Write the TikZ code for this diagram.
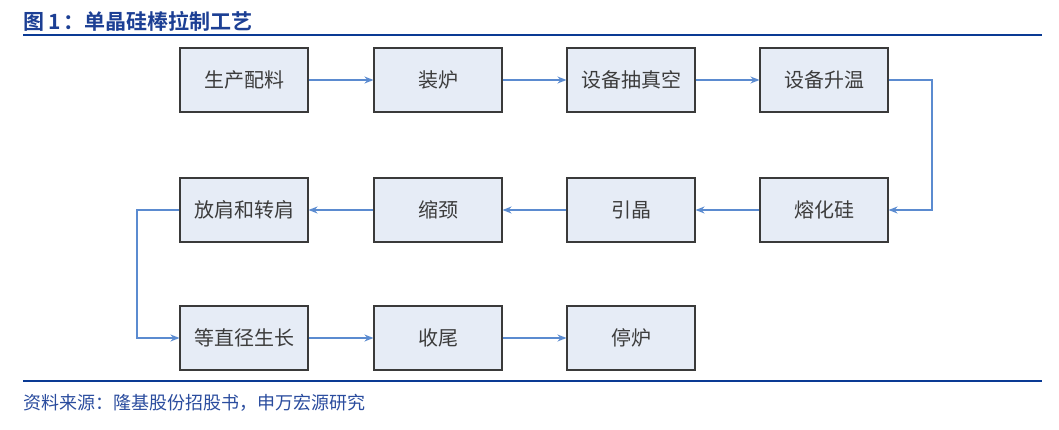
\documentclass[tikz,border=0pt]{standalone}
\usepackage{fontspec}
\newfontfamily\cjk{Noto Sans CJK SC}
\newfontfamily\cjkb{Noto Sans CJK SC Bold}
\usetikzlibrary{arrows.meta}
\definecolor{boxfill}{HTML}{E6ECF6}
\definecolor{boxline}{HTML}{3A3A3A}
\definecolor{arrowc}{HTML}{5B8BD0}
\definecolor{ruleblue}{HTML}{0A3A94}
\definecolor{titleblue}{HTML}{1C3F94}
\definecolor{srcblue}{HTML}{2A4C9E}
\definecolor{txtgray}{HTML}{3C3C3C}
\tikzset{
  stepbox/.style={draw=boxline, line width=1.1pt, fill=boxfill, minimum width=128pt, minimum height=64pt, inner sep=0pt, text=txtgray, font=\cjk\fontsize{20}{23}\selectfont},
  flow/.style={draw=arrowc, line width=1.4pt, -{Stealth[length=9pt,width=7pt]}},
  rulel/.style={draw=ruleblue, line width=2.2pt}
}
\begin{document}
\begin{tikzpicture}[x=1pt,y=-1pt]
\useasboundingbox (0,0) rectangle (1059,430);
% title and rules
\node[anchor=west, text=titleblue, font=\cjkb\fontsize{21}{24}\selectfont, inner sep=0pt] (title) at (23,21) {图 1\hspace{2pt}：单晶硅棒拉制工艺};
\coordinate (t1) at (23,35);
\coordinate (t2) at (1042,35);
\draw[rulel] (t1) -- (t2);
\coordinate (f1) at (23,381);
\coordinate (f2) at (1042,381);
\draw[rulel] (f1) -- (f2);
\node[anchor=west, text=srcblue, font=\cjk\fontsize{18}{21}\selectfont, inner sep=0pt] (src) at (23,403) {资料来源：隆基股份招股书，申万宏源研究};
% boxes
\node[stepbox] (a1) at (244,80) {生产配料};
\node[stepbox] (a2) at (438,80) {装炉};
\node[stepbox] (a3) at (631,80) {设备抽真空};
\node[stepbox] (a4) at (824,80) {设备升温};
\node[stepbox] (b4) at (824,210) {熔化硅};
\node[stepbox] (b3) at (631,210) {引晶};
\node[stepbox] (b2) at (438,210) {缩颈};
\node[stepbox] (b1) at (244,210) {放肩和转肩};
\node[stepbox] (c1) at (244,338) {等直径生长};
\node[stepbox] (c2) at (438,338) {收尾};
\node[stepbox] (c3) at (631,338) {停炉};
% turn points
\coordinate (r1) at (932,80);
\coordinate (l1) at (137,210);
% connectors
\draw[flow] (a1) -- (a2);
\draw[flow] (a2) -- (a3);
\draw[flow] (a3) -- (a4);
\draw[flow] (a4.east) -- (r1) |- (b4.east);
\draw[flow] (b4) -- (b3);
\draw[flow] (b3) -- (b2);
\draw[flow] (b2) -- (b1);
\draw[flow] (b1.west) -- (l1) |- (c1.west);
\draw[flow] (c1) -- (c2);
\draw[flow] (c2) -- (c3);
\end{tikzpicture}
\end{document}
